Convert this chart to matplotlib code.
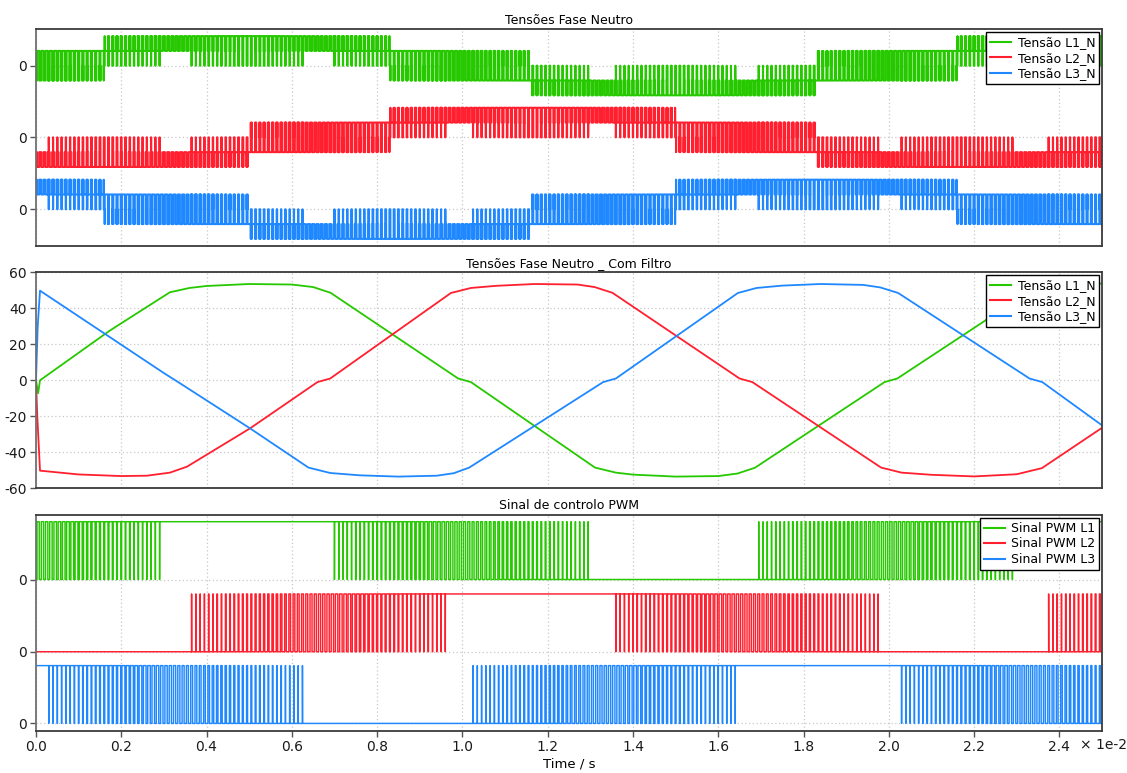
import numpy as np
import matplotlib.pyplot as plt

plt.rcParams['axes.unicode_minus'] = False

# time axis in units of 1e-2 s
t_end = 2.5
Ts = 0.01          # PWM carrier period (10 kHz) in 1e-2 s

# PWM control: segment edges and mode ('H' clamp high, 'L' clamp low,
# 'up' / 'down' = switching with rising / falling duty)
l1_edges = [-0.314, 0.303, 0.691, 1.311, 1.686, 2.300, 2.700]
l1_modes = ['up', 'H', 'down', 'L', 'up', 'H']
l2_edges = [-0.020, 0.354, 0.973, 1.352, 1.982, 2.359, 2.980]
l2_modes = ['L', 'up', 'H', 'down', 'L', 'up']
l3_edges = [-0.354, 0.020, 0.639, 1.016, 1.646, 2.022, 2.640]
l3_modes = ['H', 'down', 'L', 'up', 'H', 'down']

# filtered phase voltages
t_l1 = [0, 0.005, 0.0094, 0.173, 0.314, 0.36, 0.40, 0.50, 0.60, 0.65, 0.691,
        0.99, 1.02, 1.311, 1.36, 1.40, 1.50, 1.60, 1.645, 1.686, 1.99, 2.02,
        2.225, 2.30, 2.35, 2.40, 2.50]
v_l1 = [0, -7.2, 0, 27.6, 48.9, 51.3, 52.4, 53.5, 53.2, 51.8, 48.6,
        1.0, -1.0, -48.5, -51.3, -52.4, -53.5, -53.2, -51.8, -48.6, -1.0, 1.0,
        33, 47.5, 51.0, 52.5, 53.8]
t_l2 = [0, 0.003, 0.0094, 0.10, 0.20, 0.26, 0.314, 0.354, 0.502, 0.66, 0.69,
        0.973, 1.02, 1.08, 1.17, 1.27, 1.31, 1.352, 1.65, 1.68, 1.982, 2.03,
        2.10, 2.20, 2.30, 2.359, 2.50]
v_l2 = [0, -20, -50.2, -52.3, -53.2, -53.0, -51.3, -48.0, -26.7, -1.0, 1.0,
        48.5, 51.3, 52.5, 53.5, 53.2, 51.8, 48.6, 1.0, -1.0, -48.5, -51.3,
        -52.5, -53.4, -52.2, -48.8, -26.4]
t_l3 = [0, 0.004, 0.0094, 0.30, 0.34, 0.502, 0.639, 0.69, 0.76, 0.85, 0.94,
        0.98, 1.016, 1.33, 1.36, 1.646, 1.69, 1.75, 1.84, 1.94, 1.98, 2.022,
        2.33, 2.36, 2.50]
v_l3 = [0, 30, 49.8, 4.0, -2.0, -26.7, -48.5, -51.5, -52.8, -53.5, -53.0,
        -51.6, -48.5, -1.0, 1.0, 48.5, 51.3, 52.6, 53.5, 53.0, 51.6, 48.5,
        1.0, -1.0, -25]

green = '#26c800'
red = '#ff1f2e'
blue = '#1f88ff'
colors = [green, red, blue]


def high_intervals(edges, modes):
    iv = []
    for i, m in enumerate(modes):
        a, b = edges[i], edges[i + 1]
        if m == 'H':
            # clamp joins the neighbouring full-duty pulses
            iv.append((a - 0.6 * Ts, b + 0.6 * Ts))
        elif m in ('up', 'down'):
            k0 = int(np.floor(a / Ts))
            k1 = int(np.ceil(b / Ts))
            for k in range(k0, k1):
                c = (k + 0.5) * Ts
                if c < a or c >= b:
                    continue
                f = (c - a) / (b - a)
                d = f if m == 'up' else 1 - f
                if d > 0.01:
                    iv.append((c - d * Ts / 2, c + d * Ts / 2))
    iv.sort()
    merged = []
    for s, e in iv:
        if merged and s <= merged[-1][1] + 1e-9:
            merged[-1] = (merged[-1][0], max(merged[-1][1], e))
        else:
            merged.append((s, e))
    return np.array(merged)


ivs = [high_intervals(l1_edges, l1_modes),
       high_intervals(l2_edges, l2_modes),
       high_intervals(l3_edges, l3_modes)]


def state(iv, t):
    idx = np.searchsorted(iv[:, 0], t, side='right') - 1
    ok = idx >= 0
    res = np.zeros_like(t)
    res[ok] = (t[ok] < iv[idx[ok], 1]).astype(float)
    return res


T = np.unique(np.concatenate([iv.ravel() for iv in ivs] + [[0.0, t_end]]))
T = T[(T >= 0) & (T <= t_end)]
mid = np.append((T[:-1] + T[1:]) / 2, t_end)
S = [state(iv, mid) for iv in ivs]

# phase-to-neutral voltage in units of Vdc/3
v_pn = [2 * S[0] - S[1] - S[2], 2 * S[1] - S[0] - S[2], 2 * S[2] - S[0] - S[1]]

fig = plt.figure(figsize=(11.27, 7.73), dpi=100)
L, W = 36 / 1127, 1066 / 1127
ax1 = fig.add_axes([L, 1 - 245.7 / 773, W, 216.4 / 773])
ax2 = fig.add_axes([L, 1 - 488.3 / 773, W, 216.0 / 773])
ax3 = fig.add_axes([L, 1 - 730.7 / 773, W, 215.7 / 773])

xt = np.arange(0, 2.41, 0.2)
for ax in (ax1, ax2, ax3):
    ax.set_xlim(0, t_end)
    ax.set_xticks(xt)
    ax.grid(True, color='#c8c8c8', linestyle=(0, (1, 2)), linewidth=0.9)
    for s in ax.spines.values():
        s.set_color('#3a3a3a')
        s.set_linewidth(1.3)
    ax.spines['left'].set_color('#707070')
    ax.tick_params(direction='out', length=4, width=1, colors='#555',
                   labelcolor='#1a1a1a', labelsize=10, pad=2.5)
    ax.set_axisbelow(True)

# top panel: phase-neutral voltages (offset traces)
off1 = [0, -4.84, -9.70]
names1 = ['Tensão L1_N', 'Tensão L2_N', 'Tensão L3_N']
for v, o, c, n in zip(v_pn, off1, colors, names1):
    ax1.step(T, v + o, where='post', color=c, lw=1.5, label=n)
ax1.set_ylim(-12.16, 2.46)
ax1.set_yticks(off1)
ax1.set_yticklabels(['0', '0', '0'])
ax1.tick_params(axis='x', labelbottom=False, length=0)
ax1.set_title('Tensões Fase Neutro', fontsize=9, pad=4)

# middle panel: filtered voltages
ax2.plot(t_l1, v_l1, color=green, lw=1.3, label='Tensão L1_N')
ax2.plot(t_l2, v_l2, color=red, lw=1.3, label='Tensão L2_N')
ax2.plot(t_l3, v_l3, color=blue, lw=1.3, label='Tensão L3_N')
ax2.set_ylim(-60, 60)
ax2.set_yticks(np.arange(-60, 61, 20))
ax2.tick_params(axis='x', labelbottom=False, length=0)
ax2.set_title('Tensões Fase Neutro _ Com Filtro', fontsize=9, pad=4)

# bottom panel: PWM control signals
off3 = [0, -1.25, -2.49]
names3 = ['Sinal PWM L1', 'Sinal PWM L2', 'Sinal PWM L3']
for s, o, c, n in zip(S, off3, colors, names3):
    ax3.step(T, s + o, where='post', color=c, lw=1.05, label=n)
ax3.set_ylim(-2.616, 1.116)
ax3.set_yticks(off3)
ax3.set_yticklabels(['0', '0', '0'])
ax3.set_xticklabels([f'{x:.1f}' for x in xt])
ax3.set_xlabel('Time / s', fontsize=9.5, labelpad=3)
ax3.set_title('Sinal de controlo PWM', fontsize=9, pad=4)
fig.text(1080 / 1127, 1 - 745 / 773, '× 1e-2', fontsize=10, color='#1a1a1a',
         ha='left', va='center')

for ax in (ax1, ax2, ax3):
    leg = ax.legend(loc='upper right', fontsize=9, fancybox=False, framealpha=1,
                    edgecolor='black', borderpad=0.3, handlelength=1.7,
                    handletextpad=0.5, labelspacing=0.2, borderaxespad=0.25)
    leg.get_frame().set_linewidth(1.0)
    for h in leg.get_lines():
        h.set_linewidth(1.5)

fig.savefig('out.png', dpi=100)
